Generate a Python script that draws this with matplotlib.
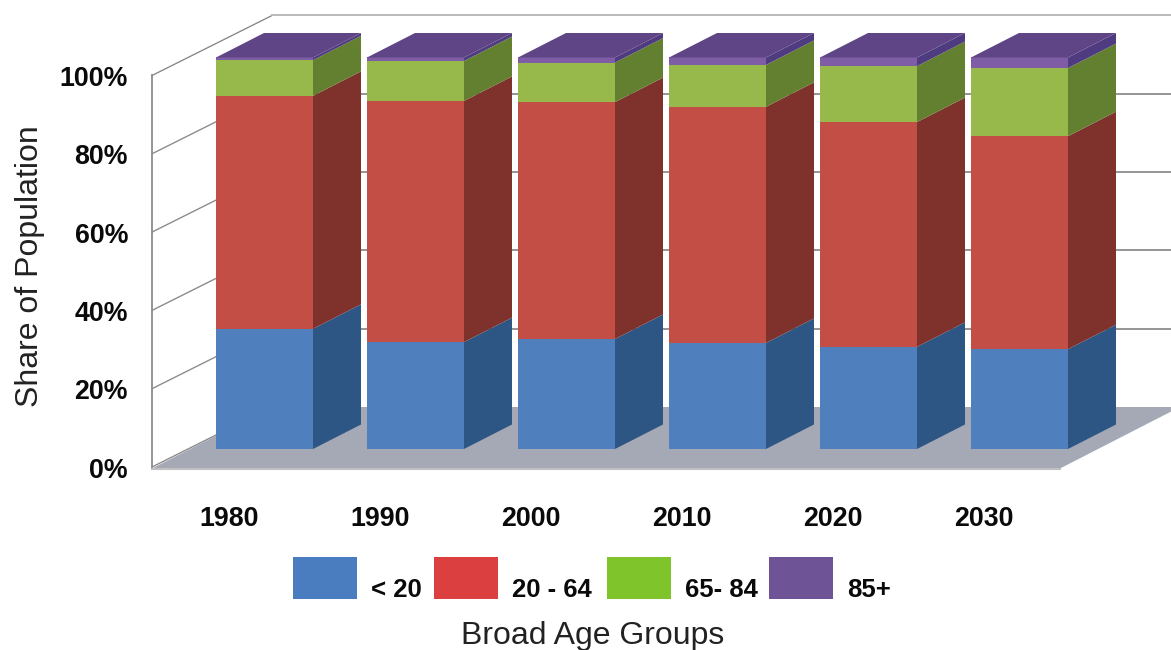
import matplotlib
matplotlib.use('Agg')

import matplotlib.pyplot as plt
from matplotlib.patches import Rectangle
import numpy as np

years = ['1980', '1990', '2000', '2010', '2020', '2030']
age_groups = ['< 20', '20 - 64', '65- 84', '85+']

# share of population per age group, in percent
under_20 = [30.7, 27.3, 28.1, 27.1, 26.1, 25.5]
age_20_64 = [59.5, 61.6, 60.5, 60.3, 57.4, 54.4]
age_65_84 = [9.1, 10.2, 10.1, 10.7, 14.3, 17.4]
age_85_up = [0.7, 0.9, 1.3, 1.9, 2.2, 2.7]

y_ticks = [0, 20, 40, 60, 80, 100]

front_colors = ['#4F80BD', '#C24E45', '#97B94B', '#7E5CA6']
side_colors = ['#2E5684', '#7F322C', '#62802F', '#4F3C80']
top_color = '#5F4586'
legend_colors = ['#4A7DC0', '#DB3F3F', '#80C42C', '#6E5496']

plt.rcParams['font.family'] = ['Liberation Sans', 'DejaVu Sans']

W, H = 1171, 650
fig = plt.figure(figsize=(W / 100, H / 100), dpi=100)
ax = fig.add_axes([0, 0, 1, 1])

# one x unit is one category, one y unit is one percent
x_unit = 151.0
y_unit = 3.915
ax.set_xlim((0 - 264.5) / x_unit, (W - 264.5) / x_unit)
ax.set_ylim((449 - H) / y_unit, 449 / y_unit)
ax.axis('off')

bar_w = 97 / x_unit
depth_x = 48 / x_unit
depth_y = 24.5 / y_unit

# the box the bars stand in
wall_x = (152 - 264.5) / x_unit
wall_y = -18 / y_unit
back_dx = 120 / x_unit
back_dy = 60 / y_unit
right_x = (1060 - 264.5) / x_unit
edge_x = (W - 264.5) / x_unit
floor_low = wall_y - 1.5 / y_unit

ax.fill([wall_x, right_x, right_x + back_dx, wall_x + back_dx],
        [floor_low, floor_low, wall_y + back_dy, wall_y + back_dy],
        color='#A5A9B5', lw=0, zorder=1)
ax.plot([wall_x, right_x], [floor_low, floor_low], color='#C0C0C0', lw=1.5, zorder=1)

for t in y_ticks:
    y = wall_y + t
    # side wall and back wall lines
    ax.plot([wall_x, wall_x + back_dx], [y, y + back_dy], color='#8C8C8C', lw=1.0, zorder=0.5)
    color = '#B4B4B4' if t == 100 else '#8C8C8C'
    if t > 0:
        ax.plot([wall_x + back_dx, edge_x], [y + back_dy, y + back_dy], color=color, lw=1.3, zorder=0.5)
    ax.text(wall_x - 24 / x_unit, y - 3.5 / y_unit, '%d%%' % t, ha='right', va='center',
            fontsize=19.3, fontweight='bold', color='#0A0A0A')
ax.plot([wall_x, wall_x], [wall_y, wall_y + 100], color='#8C8C8C', lw=1.3, zorder=0.6)

# stacked bars: front face with ax.bar, side and top faces as polygons
x = np.arange(len(years))
series = [under_20, age_20_64, age_65_84, age_85_up]
bottom = np.zeros(len(years))
for k, values in enumerate(series):
    values = np.array(values)
    ax.bar(x, values, width=bar_w, bottom=bottom, color=front_colors[k], lw=0, zorder=3)
    for i in x:
        x1 = i + bar_w / 2
        y0 = bottom[i]
        y1 = bottom[i] + values[i]
        ax.fill([x1, x1 + depth_x, x1 + depth_x, x1],
                [y0, y0 + depth_y, y1 + depth_y, y1],
                color=side_colors[k], lw=0, zorder=3)
    bottom = bottom + values

for i in x:
    x0 = i - bar_w / 2
    x1 = i + bar_w / 2
    top = bottom[i]
    ax.fill([x0, x1, x1 + depth_x, x0 + depth_x],
            [top, top, top + depth_y, top + depth_y],
            color=top_color, lw=0, zorder=3)
    ax.text(i - 35.5 / x_unit, -70 / y_unit, years[i], ha='center', va='center',
            fontsize=19.3, fontweight='bold', color='#0A0A0A')

# legend drawn by hand because the entries are unevenly spaced
swatch_left = [293, 434, 607, 769]
label_left = [371, 512, 685, 847]
for k in range(len(age_groups)):
    fig.patches.append(Rectangle((swatch_left[k] / W, 1 - 599 / H), 64 / W, 42 / H,
                                 transform=fig.transFigure, color=legend_colors[k], lw=0))
    fig.text(label_left[k] / W, 1 - 597 / H, age_groups[k], ha='left', va='baseline',
             fontsize=18.5, fontweight='bold', color='#0A0A0A')

fig.text(593 / W, 1 - 636 / H, 'Broad Age Groups', ha='center', va='center',
         fontsize=23, color='#222222')
fig.text(30 / W, 1 - 266 / H, 'Share of Population', ha='center', va='center',
         rotation=90, fontsize=23, color='#222222')

fig.savefig('out.png', dpi=100)
